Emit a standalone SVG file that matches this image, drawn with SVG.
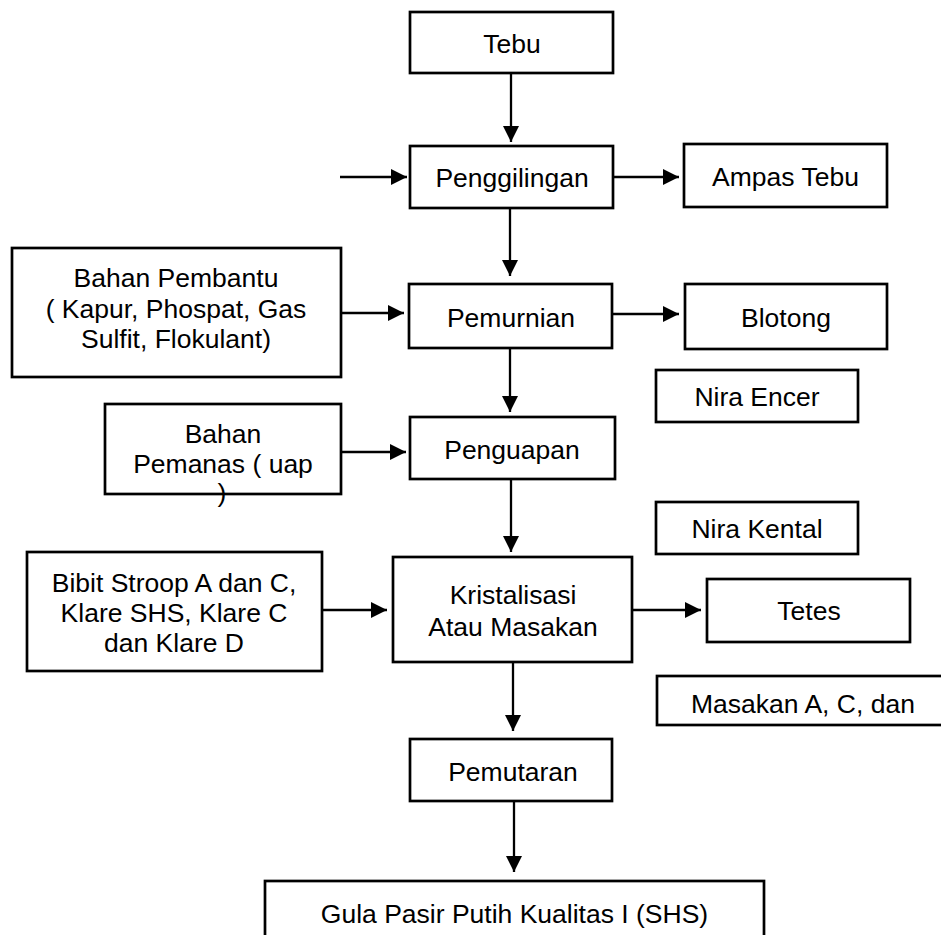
<svg xmlns="http://www.w3.org/2000/svg" width="941" height="935" viewBox="0 0 941 935">
<style>
.box{fill:#fff;stroke:#000;stroke-width:2.7}
.t{font-family:"Liberation Sans",Arial,sans-serif;font-size:26.5px;fill:#000;text-anchor:middle}
.c{stroke:#000;stroke-width:2.3;fill:none;marker-end:url(#ah)}
</style>
<defs>
<marker id="ah" markerUnits="userSpaceOnUse" markerWidth="17" markerHeight="17" refX="16" refY="8" orient="auto">
<path d="M0,0 L16,8 L0,16 Z" fill="#000"/>
</marker>
</defs>
<rect width="941" height="935" fill="#fff"/>
<g id="connectors">
<line class="c" x1="511" y1="73" x2="511" y2="142"/>
<line class="c" x1="340" y1="177" x2="407" y2="177"/>
<line class="c" x1="613" y1="177" x2="679" y2="177"/>
<line class="c" x1="510" y1="208" x2="510" y2="276"/>
<line class="c" x1="341" y1="313" x2="404" y2="313"/>
<line class="c" x1="612" y1="314" x2="679" y2="314"/>
<line class="c" x1="510" y1="348" x2="510" y2="412"/>
<line class="c" x1="341" y1="452" x2="406" y2="452"/>
<line class="c" x1="511" y1="479" x2="511" y2="552"/>
<line class="c" x1="322" y1="610" x2="387" y2="610"/>
<line class="c" x1="632" y1="610" x2="701" y2="610"/>
<line class="c" x1="513" y1="662" x2="513" y2="731"/>
<line class="c" x1="514" y1="801" x2="514" y2="872"/>
</g>
<g id="tebu"><rect class="box" x="410" y="12" width="203" height="61"/><text class="t" x="512" y="53">Tebu</text></g>
<g id="penggilingan"><rect class="box" x="410" y="146" width="203" height="62"/><text class="t" x="512" y="187">Penggilingan</text></g>
<g id="ampas-tebu"><rect class="box" x="684" y="144" width="203" height="63"/><text class="t" x="785.5" y="186">Ampas Tebu</text></g>
<g id="bahan-pembantu"><rect class="box" x="12" y="248" width="329" height="129"/><text class="t" x="176" y="287">Bahan Pembantu</text><text class="t" x="176" y="317.5">( Kapur, Phospat, Gas</text><text class="t" x="176" y="348">Sulfit, Flokulant)</text></g>
<g id="pemurnian"><rect class="box" x="409" y="284" width="203" height="64"/><text class="t" x="511" y="327">Pemurnian</text></g>
<g id="blotong"><rect class="box" x="685" y="284" width="202" height="65"/><text class="t" x="786" y="327">Blotong</text></g>
<g id="nira-encer"><rect class="box" x="656" y="370" width="202" height="52"/><text class="t" x="757" y="406">Nira Encer</text></g>
<g id="bahan-pemanas"><rect class="box" x="105" y="404" width="236" height="90"/><text class="t" x="223" y="443">Bahan</text><text class="t" x="223" y="473">Pemanas ( uap</text><text class="t" x="222" y="502">)</text></g>
<g id="penguapan"><rect class="box" x="410" y="417" width="205" height="62"/><text class="t" x="512" y="459">Penguapan</text></g>
<g id="nira-kental"><rect class="box" x="656" y="502" width="202" height="52"/><text class="t" x="757" y="538">Nira Kental</text></g>
<g id="bibit"><rect class="box" x="27" y="552" width="295" height="119"/><text class="t" x="174" y="592">Bibit Stroop A dan C,</text><text class="t" x="174" y="622">Klare SHS, Klare C</text><text class="t" x="174" y="652">dan Klare D</text></g>
<g id="kristalisasi"><rect class="box" x="393" y="557" width="239" height="105"/><text class="t" x="513" y="604">Kristalisasi</text><text class="t" x="513" y="636">Atau Masakan</text></g>
<g id="tetes"><rect class="box" x="707" y="579" width="203" height="63"/><text class="t" x="809" y="620">Tetes</text></g>
<g id="masakan"><rect class="box" x="657" y="676" width="290" height="49"/><text class="t" x="691" y="713" style="text-anchor:start">Masakan A, C, dan</text></g>
<g id="pemutaran"><rect class="box" x="410" y="739" width="202" height="62"/><text class="t" x="513" y="781">Pemutaran</text></g>
<g id="gula"><rect class="box" x="265" y="881" width="499" height="60"/><text class="t" x="514.5" y="923">Gula Pasir Putih Kualitas I (SHS)</text></g>
</svg>
